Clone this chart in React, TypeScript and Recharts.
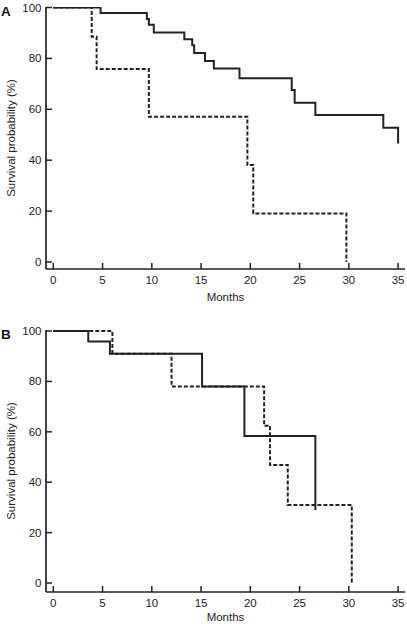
import React from 'react';
import { LineChart, Line, XAxis, YAxis } from 'recharts';

// Panel A – solid group
const aSolidMonths = [0, 4.8, 9.5, 9.7, 10.2, 13.3, 14.1, 14.3, 15.4, 16.3, 18.9, 24.2, 24.5, 26.6, 33.5, 35];
const aSolidSurv = [100, 97.8, 95.5, 93.2, 90.2, 87.5, 85.2, 82.1, 79, 76, 72.2, 67.6, 62.6, 57.8, 52.8, 46.6];
// Panel A – dashed group
const aDashMonths = [0, 3.9, 4.4, 9.7, 19.7, 20.3, 29.75];
const aDashSurv = [100, 88.5, 75.8, 57.1, 38.1, 19.1, 0];
// Panel B – solid group
const bSolidMonths = [0, 3.55, 5.75, 15.1, 19.4, 26.6];
const bSolidSurv = [100, 95.8, 91, 78, 58.3, 29];
// Panel B – dashed group
const bDashMonths = [0, 6.0, 12.0, 21.4, 22.0, 23.8, 30.3];
const bDashSurv = [100, 91, 78, 62.4, 46.8, 31, 0];

const monthTicks = [0, 5, 10, 15, 20, 25, 30, 35];
const survTicks = [0, 20, 40, 60, 80, 100];

const ink = '#222';
const font = 'Liberation Sans, Arial, Helvetica, sans-serif';

const toPoints = (months: number[], surv: number[]) =>
  months.map((m, i) => ({ month: m, surv: surv[i] }));

interface PanelProps {
  letter: string;
  solid: { month: number; surv: number }[];
  dashed: { month: number; surv: number }[];
  height: number;
  margin: { top: number; right: number; bottom: number; left: number };
  yDomain: [number, number];
  labelOffset: number;
}

const Panel = ({ letter, solid, dashed, height, margin, yDomain, labelOffset }: PanelProps) => (
  <LineChart width={407} height={height} margin={margin}>
    <XAxis
      dataKey="month"
      type="number"
      domain={[-0.74, 35.7]}
      ticks={monthTicks}
      allowDataOverflow
      height={32}
      tickSize={-6}
      tickMargin={13}
      axisLine={{ stroke: ink, strokeWidth: 1.7 }}
      tickLine={{ stroke: ink, strokeWidth: 1.5 }}
      tick={{ fill: ink, fontSize: 11.5, fontFamily: font }}
      label={{ value: 'Months', position: 'insideBottom', offset: labelOffset, fill: ink, fontSize: 11.5, fontFamily: font }}
    />
    <YAxis
      type="number"
      domain={yDomain}
      ticks={survTicks}
      allowDataOverflow
      width={46}
      tickSize={-6}
      tickMargin={10.5}
      axisLine={{ stroke: ink, strokeWidth: 1.7 }}
      tickLine={{ stroke: ink, strokeWidth: 1.5 }}
      tick={{ fill: ink, fontSize: 11.5, fontFamily: font }}
      label={{
        content: (props: any) => {
          const vb = props.viewBox || {};
          const cy = vb.y + vb.height / 2;
          return (
            <g>
              <text x={1} y={vb.y + 9} fill="#111" fontSize={13.5} fontWeight="bold" fontFamily={font}>
                {letter}
              </text>
              <text
                x={11}
                y={cy}
                transform={`rotate(-90 11 ${cy})`}
                textAnchor="middle"
                dominantBaseline="central"
                fill={ink}
                fontSize={11.5}
                fontFamily={font}
              >
                Survival probability (%)
              </text>
            </g>
          );
        },
      }}
    />
    <Line
      data={solid}
      dataKey="surv"
      type="stepAfter"
      stroke={ink}
      strokeWidth={2}
      dot={false}
      activeDot={false}
      isAnimationActive={false}
    />
    <Line
      data={dashed}
      dataKey="surv"
      type="stepAfter"
      stroke={ink}
      strokeWidth={2}
      strokeDasharray="4 2"
      dot={false}
      activeDot={false}
      isAnimationActive={false}
    />
  </LineChart>
);

const App = () => (
  <div style={{ position: 'absolute', left: 0, top: 0, width: 407, height: 624, background: '#fff' }}>
    <Panel
      letter="A"
      solid={toPoints(aSolidMonths, aSolidSurv)}
      dashed={toPoints(aDashMonths, aDashSurv)}
      height={320}
      margin={{ top: 7, right: 2, bottom: 19, left: 0 }}
      yDomain={[-2.75, 100.2]}
      labelOffset={0}
    />
    <Panel
      letter="B"
      solid={toPoints(bSolidMonths, bSolidSurv)}
      dashed={toPoints(bDashMonths, bDashSurv)}
      height={304}
      margin={{ top: 10, right: 2, bottom: 0, left: 0 }}
      yDomain={[-3.57, 100.4]}
      labelOffset={3}
    />
  </div>
);

export default App;
